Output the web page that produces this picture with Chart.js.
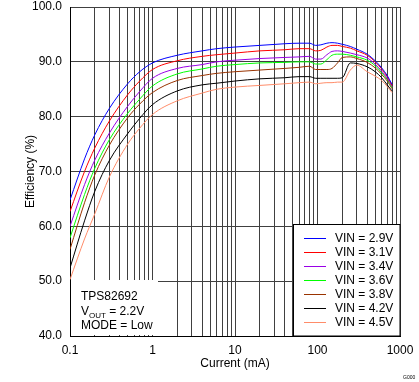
<!DOCTYPE html>
<html>
<head>
<meta charset="utf-8">
<script src="https://cdn.jsdelivr.net/npm/chart.js@4"></script>
<style>
  html, body { margin: 0; padding: 0; background: #fff; }
  #wrap { width: 419px; height: 382px; }
</style>
</head>
<body>
<div id="wrap"><canvas id="effChart" width="419" height="382"></canvas></div>
<script>
// load current (mA)
const current = [0.1, 0.15, 0.2, 0.3, 0.5, 0.7, 1, 2, 4, 6, 10, 20, 40, 60, 80, 95, 110, 130, 150, 175, 200, 250, 300, 400, 500, 600, 700, 800];

// efficiency (%) per input voltage
const vin29 = [64.8, 72.3, 76.7, 81.5, 86.0, 88.2, 89.8, 91.2, 92.0, 92.4, 92.7, 93.0, 93.3, 93.4, 93.4, 93.0, 93.1, 93.4, 93.5, 93.4, 93.2, 92.8, 92.3, 91.4, 90.2, 88.9, 87.5, 85.9];
const vin31 = [62.7, 70.0, 74.3, 79.2, 84.0, 86.5, 88.6, 90.2, 91.0, 91.3, 91.6, 92.0, 92.2, 92.4, 92.4, 92.0, 92.1, 92.7, 93.0, 93.0, 92.8, 92.5, 92.0, 91.2, 90.0, 88.7, 87.3, 85.7];
const vin34 = [60.0, 67.6, 72.1, 77.0, 81.9, 84.6, 87.0, 88.8, 89.5, 90.0, 90.3, 90.6, 90.8, 90.9, 91.0, 90.5, 90.5, 91.3, 91.9, 92.0, 91.9, 91.6, 91.3, 90.7, 89.6, 88.3, 87.0, 85.5];
const vin36 = [57.9, 65.8, 70.6, 75.8, 80.6, 83.2, 85.6, 87.8, 88.7, 89.2, 89.5, 89.8, 89.9, 90.0, 90.0, 89.6, 89.6, 90.4, 91.2, 91.4, 91.4, 91.2, 90.9, 90.3, 89.3, 88.0, 86.8, 85.3];
const vin38 = [55.8, 64.3, 69.4, 74.8, 79.8, 82.3, 84.4, 86.6, 87.5, 87.9, 88.2, 88.5, 88.8, 89.0, 89.2, 88.6, 88.6, 88.6, 88.8, 89.8, 90.8, 90.9, 90.6, 89.9, 88.9, 87.7, 86.5, 85.1];
const vin42 = [52.4, 61.0, 66.4, 72.0, 76.9, 79.7, 82.2, 84.7, 85.8, 86.1, 86.5, 86.9, 87.1, 87.3, 87.3, 87.0, 87.0, 87.0, 87.0, 87.0, 87.1, 89.8, 89.7, 89.1, 88.2, 87.1, 85.8, 84.7];
const vin45 = [50.3, 57.7, 62.3, 69.0, 75.0, 77.9, 80.4, 82.9, 84.3, 85.0, 85.4, 85.7, 86.0, 86.2, 86.3, 86.0, 86.1, 86.2, 86.2, 86.3, 86.3, 88.5, 89.4, 88.2, 87.4, 86.6, 85.5, 84.4];

const seriesLabels = ['VIN = 2.9V', 'VIN = 3.1V', 'VIN = 3.4V', 'VIN = 3.6V', 'VIN = 3.8V', 'VIN = 4.2V', 'VIN = 4.5V'];
const seriesColors = ['#0000ff', '#ff0000', '#9900e6', '#00ff00', '#993300', '#000000', '#ff8c69'];
const seriesValues = [vin29, vin31, vin34, vin36, vin38, vin42, vin45];

const xTickLabels = ['0.1', '1', '10', '100', '1000'];
const yTickLabels = ['40.0', '50.0', '60.0', '70.0', '80.0', '90.0', '100.0'];

const FONT = 'Arial, "Liberation Sans", sans-serif';

const datasets = seriesValues.map((vals, i) => ({
  label: seriesLabels[i],
  data: vals.map((v, j) => ({ x: current[j], y: v })),
  borderColor: seriesColors[i],
  backgroundColor: seriesColors[i],
  borderWidth: 1,
  pointRadius: 0,
  cubicInterpolationMode: 'monotone',
  fill: false
}));

// white boxes, legend and the part number note
const overlay = {
  id: 'overlay',
  afterDatasetsDraw(chart) {
    const ctx = chart.ctx;
    const a = chart.chartArea;
    ctx.save();

    // note box (bottom left)
    ctx.fillStyle = '#fff';
    ctx.fillRect(a.left + 1, 280, 87, a.bottom - 280 - 1);
    ctx.fillStyle = '#000';
    ctx.font = '12px ' + FONT;
    ctx.textBaseline = 'alphabetic';
    ctx.fillText('TPS82692', 81, 300);
    ctx.fillText('V', 81, 315);
    const vw = ctx.measureText('V').width;
    ctx.font = '8px ' + FONT;
    ctx.fillText('OUT', 81 + vw, 318);
    const ow = ctx.measureText('OUT').width;
    ctx.font = '12px ' + FONT;
    ctx.fillText(' = 2.2V', 81 + vw + ow, 315);
    ctx.fillText('MODE = Low', 81, 329);

    // legend box (bottom right)
    const lx = 293.5, ly = 224.5;
    ctx.fillStyle = '#fff';
    ctx.fillRect(lx, ly, a.right - lx, a.bottom - ly);
    ctx.strokeStyle = '#000';
    ctx.lineWidth = 1;
    ctx.strokeRect(lx, ly, a.right - lx, a.bottom - ly);
    ctx.font = '12px ' + FONT;
    ctx.textBaseline = 'middle';
    chart.data.datasets.forEach((ds, i) => {
      const y = 238.5 + i * 14;
      ctx.strokeStyle = ds.borderColor;
      ctx.beginPath();
      ctx.moveTo(304, y);
      ctx.lineTo(326, y);
      ctx.stroke();
      ctx.fillStyle = '#000';
      ctx.fillText(ds.label, 335, y + 0.5);
    });

    // little figure code
    ctx.font = '5px ' + FONT;
    ctx.fillStyle = '#000';
    ctx.textBaseline = 'alphabetic';
    ctx.fillText('G000', 403, 379);
    ctx.restore();
  }
};

new Chart(document.getElementById('effChart'), {
  type: 'line',
  data: { datasets },
  plugins: [overlay],
  options: {
    responsive: false,
    animation: false,
    layout: { padding: { top: 7, right: 19, left: 0, bottom: 0 } },
    plugins: {
      legend: { display: false },
      tooltip: { enabled: false }
    },
    scales: {
      x: {
        type: 'logarithmic',
        min: 0.1,
        max: 1000,
        afterFit(scale) {
          scale.height = 46;
          scale.paddingLeft = 0;
          scale.paddingRight = 0;
        },
        afterBuildTicks(scale) {
          const ticks = [];
          xTickLabels.slice(0, -1).forEach(l => {
            const d = parseFloat(l);
            for (let m = 1; m <= 9; m++) ticks.push({ value: m * d });
          });
          ticks.push({ value: parseFloat(xTickLabels[xTickLabels.length - 1]) });
          scale.ticks = ticks;
        },
        ticks: {
          autoSkip: false,
          maxRotation: 0,
          padding: 7,
          color: '#000',
          font: { family: FONT, size: 12 },
          callback(v) {
            const hit = xTickLabels.find(l => Math.abs(parseFloat(l) - v) < 1e-9);
            return hit !== undefined ? hit : '';
          }
        },
        grid: { color: '#404040', lineWidth: 1, drawTicks: false },
        border: { color: '#000', width: 1 },
        title: {
          display: true,
          text: 'Current (mA)',
          color: '#000',
          font: { family: FONT, size: 12 },
          padding: { top: 0, bottom: 11 }
        }
      },
      y: {
        type: 'linear',
        min: 40,
        max: 100,
        afterFit(scale) {
          scale.width = 70;
          scale.paddingTop = 0;
          scale.paddingBottom = 0;
        },
        afterBuildTicks(scale) {
          scale.ticks = yTickLabels.map(l => ({ value: parseFloat(l) }));
        },
        ticks: {
          padding: 8,
          color: '#000',
          font: { family: FONT, size: 12 },
          callback(v) {
            const hit = yTickLabels.find(l => Math.abs(parseFloat(l) - v) < 1e-9);
            return hit !== undefined ? hit : '';
          }
        },
        grid: { color: '#404040', lineWidth: 1, drawTicks: false },
        border: { color: '#000', width: 1 },
        title: {
          display: true,
          text: 'Efficiency (%)',
          color: '#000',
          font: { family: FONT, size: 12 },
          padding: { top: 23, bottom: 0 }
        }
      }
    }
  }
});
</script>
</body>
</html>
